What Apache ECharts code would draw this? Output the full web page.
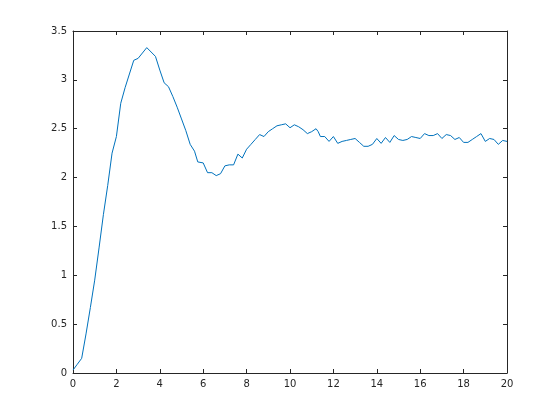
<!DOCTYPE html>
<html>
<head>
<meta charset="utf-8">
<script src="https://cdn.jsdelivr.net/npm/echarts@6/dist/echarts.min.js"></script>
<style>html,body{margin:0;padding:0;background:#fff}#c{width:560px;height:420px}</style>
</head>
<body>
<div id="c"></div>
<script>
const tValues = [0,0.2,0.4,0.6,0.8,1.0,1.2,1.4,1.6,1.8,2.0,2.2,2.4,2.6,2.8,3.0,3.4,3.8,4.0,4.2,4.4,4.6,4.8,5.0,5.2,5.4,5.6,5.75,6.0,6.2,6.4,6.6,6.8,7.0,7.2,7.4,7.6,7.8,8.0,8.2,8.4,8.6,8.8,9.0,9.2,9.4,9.6,9.8,10.0,10.2,10.4,10.6,10.8,11.0,11.2,11.3,11.4,11.6,11.8,12.0,12.2,12.4,12.6,12.8,13.0,13.2,13.4,13.6,13.8,14.0,14.2,14.4,14.6,14.8,15.0,15.2,15.4,15.6,15.8,16.0,16.2,16.4,16.6,16.8,17.0,17.2,17.4,17.6,17.8,18.0,18.2,18.4,18.6,18.8,19.0,19.2,19.4,19.6,19.8,20.0];
const yValues = [0.03,0.09,0.15,0.40,0.67,0.95,1.28,1.62,1.92,2.25,2.42,2.76,2.92,3.06,3.20,3.22,3.33,3.24,3.10,2.97,2.93,2.83,2.72,2.60,2.48,2.34,2.27,2.16,2.15,2.05,2.05,2.02,2.04,2.12,2.13,2.13,2.24,2.20,2.29,2.34,2.39,2.44,2.42,2.47,2.50,2.53,2.54,2.55,2.51,2.54,2.52,2.49,2.45,2.47,2.50,2.47,2.42,2.42,2.37,2.42,2.35,2.37,2.38,2.39,2.40,2.36,2.32,2.32,2.34,2.40,2.35,2.41,2.36,2.43,2.39,2.38,2.39,2.42,2.41,2.40,2.45,2.43,2.43,2.45,2.40,2.44,2.43,2.39,2.41,2.36,2.36,2.39,2.42,2.45,2.37,2.40,2.39,2.34,2.38,2.37];

const axisColor = '#262626';
const fontFamily = 'DejaVu Sans';
function valAxis(pos, min, max, interval, showLabel) {
  return {
    type: 'value', position: pos, min: min, max: max, interval: interval,
    axisLine: { show: true, onZero: false, lineStyle: { color: axisColor, width: 1 } },
    axisTick: { show: true, inside: true, length: 4, lineStyle: { color: axisColor } },
    axisLabel: { show: showLabel, color: axisColor, fontFamily: fontFamily, fontSize: 10, margin: 6 },
    splitLine: { show: false }
  };
}
const chart = echarts.init(document.getElementById('c'));
chart.setOption({
  animation: false,
  backgroundColor: '#ffffff',
  grid: { left: 73, top: 31, width: 434, height: 342, containLabel: false },
  xAxis: [valAxis('bottom', 0, 20, 2, true), valAxis('top', 0, 20, 2, false)],
  yAxis: [valAxis('left', 0, 3.5, 0.5, true), valAxis('right', 0, 3.5, 0.5, false)],
  series: [{
    type: 'line',
    xAxisIndex: 0, yAxisIndex: 0,
    data: tValues.map((t, i) => [t, yValues[i]]),
    showSymbol: false,
    lineStyle: { color: '#0072BD', width: 1 },
    itemStyle: { color: '#0072BD' }
  }]
});
</script>
</body>
</html>
